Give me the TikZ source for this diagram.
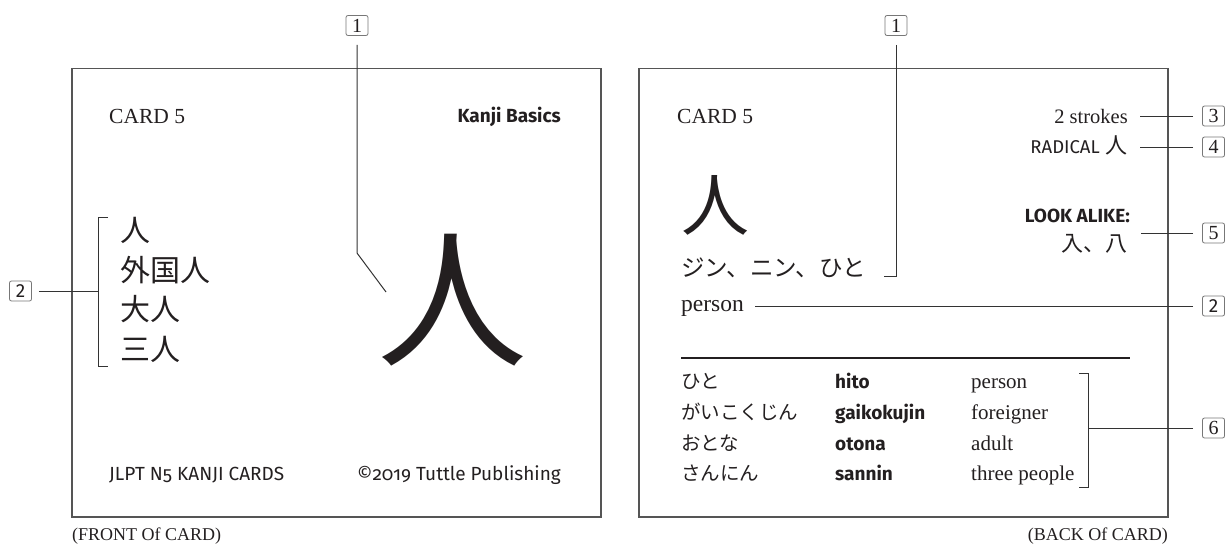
\documentclass[tikz,border=0pt]{standalone}
\usepackage{fontspec}
\setmainfont{Liberation Serif}
\newfontfamily\sansf{Fira Sans}
\newfontfamily\sansos{Fira Sans}[Numbers=OldStyle]
\newfontfamily\cjk{Noto Sans CJK JP}
\definecolor{ink}{HTML}{231F20}
\definecolor{cardgray}{HTML}{555555}
\definecolor{leadgray}{HTML}{333333}
\definecolor{boxgray}{HTML}{777777}
\newcommand{\fsz}[1]{\fontsize{#1}{#1}\selectfont}
\tikzset{
  cardbox/.style={draw=cardgray, line width=1.2pt},
  lead/.style={draw=leadgray, line width=1pt},
  callout/.style={draw=boxgray, rounded corners=2pt, minimum width=22pt, minimum height=20pt, inner sep=0pt, line width=0.8pt, text=ink, font=\fsz{20}},
  txt/.style={inner sep=0pt, text=ink},
  serifA/.style={txt, font=\fsz{21.5}},
  serifT/.style={txt, font=\fsz{21}},
  sansB/.style={txt, font=\sansf\bfseries\fsz{19}},
  sansR/.style={txt, font=\sansos\fsz{19}},
  kanjiL/.style={txt, font=\cjk\fsz{30}},
  kana/.style={txt, font=\cjk\fsz{19.5}},
}
\begin{document}
\begin{tikzpicture}[x=1pt,y=-1pt]
\useasboundingbox (0,0) rectangle (1226,546);
% cards
\draw[cardbox] (72,68.5) rectangle (601,517);
\draw[cardbox] (639,68.5) rectangle (1168,517);

% ---------- FRONT ----------
\node[serifA, anchor=base west] (fcard) at (109,123) {CARD 5};
\node[sansB, anchor=base east] (fkb) at (561,122) {Kanji Basics};
\node[kanjiL, anchor=base west] (fl1) at (120,241.5) {人};
\node[kanjiL, anchor=base west] (fl2) at (120,281) {外国人};
\node[kanjiL, anchor=base west] (fl3) at (120,320.5) {大人};
\node[kanjiL, anchor=base west] (fl4) at (120,360) {三人};
\node[txt, font=\cjk\fsz{150}] (fbig) at (452,300) {人};
\node[sansR, anchor=base west] (fjlpt) at (109,480) {JLPT N5 KANJI CARDS};
\node[sansR, anchor=base east] (fcopy) at (561,480) {©2019 Tuttle Publishing};
\node[txt, font=\fsz{18}, anchor=base west] (fcap) at (72,540) {(FRONT Of CARD)};

% front callouts
\node[callout] (c1f) at (357,25.5) {1};
\coordinate (f1bend) at (356,253);
\coordinate (f1end) at (386,292);
\draw[lead, shorten <=9pt] (c1f.south) -- (c1f.south |- f1bend) -- (f1end);

\node[callout, font=\sansf\fsz{19}] (c2f) at (20.5,291) {2};
\coordinate (brtop) at (108,217);
\coordinate (brbot) at (108,366);
\coordinate (brmid) at (98,291);
\draw[lead] (brtop) -- (brtop -| brmid) -- (brbot -| brmid) -- (brbot);
\draw[lead, shorten <=7pt] (c2f.east) -- (brmid);

% ---------- BACK ----------
\node[serifA, anchor=base west] (bcard) at (677,123) {CARD 5};
\node[txt, font=\fsz{20.5}, anchor=base east] (bstr) at (1128,123) {2 strokes};
\node[txt, anchor=base east] (brad) at (1128,153) {{\sansf\fsz{18.5}RADICAL}\hspace{6pt}{\cjk\fsz{22}人}};
\node[txt, font=\cjk\fsz{68}] (bbig) at (715,205) {人};
\node[txt, font=\cjk\fsz{23.5}, anchor=base west] (bread) at (681,276) {ジン、ニン、ひと};
\node[sansB, anchor=base east] (blook) at (1130,222) {LOOK ALIKE:};
\node[txt, font=\cjk\fsz{22}, anchor=base east] (balike) at (1128,251) {入、八};
\node[txt, font=\fsz{23.5}, anchor=base west] (bperson) at (681,311) {person};
\coordinate (rulel) at (681,358);
\coordinate (ruler) at (1130,358);
\draw[draw=ink, line width=1.5pt] (rulel) -- (ruler);

% table
\node[kana, anchor=base west] (k1) at (681,388) {ひと};
\node[kana, anchor=base west] (k2) at (681,419) {がいこくじん};
\node[kana, anchor=base west] (k3) at (681,450) {おとな};
\node[kana, anchor=base west] (k4) at (681,480) {さんにん};
\node[sansB, anchor=base west] (r1) at (835,388) {hito};
\node[sansB, anchor=base west] (r2) at (835,419) {gaikokujin};
\node[sansB, anchor=base west] (r3) at (835,450) {otona};
\node[sansB, anchor=base west] (r4) at (835,480) {sannin};
\node[serifT, anchor=base west] (e1) at (971,388) {person};
\node[serifT, anchor=base west] (e2) at (971,419) {foreigner};
\node[serifT, anchor=base west] (e3) at (971,450) {adult};
\node[serifT, anchor=base west] (e4) at (971,480) {three people};
\node[txt, font=\fsz{18}, anchor=base east] (bcap) at (1168,540) {(BACK Of CARD)};

% back callouts
\node[callout] (c1b) at (896,25.5) {1};
\coordinate (b1bend) at (896,276);
\coordinate (b1end) at (884,276);
\draw[lead, shorten <=9pt] (c1b.south) -- (b1bend) -- (b1end);

\node[callout] (c3) at (1213.5,116) {3};
\coordinate (s3) at (1140,116);
\draw[lead, shorten <=9pt] (c3.west) -- (s3);

\node[callout] (c4) at (1213.5,147) {4};
\coordinate (s4) at (1140,147);
\draw[lead, shorten <=9pt] (c4.west) -- (s4);

\node[callout] (c5) at (1213.5,233) {5};
\coordinate (s5) at (1141,233);
\draw[lead, shorten <=9pt] (c5.west) -- (s5);

\node[callout, font=\sansf\fsz{19}] (c2b) at (1213.5,306) {2};
\coordinate (s2) at (755,306);
\draw[lead, shorten <=9pt] (c2b.west) -- (s2);

\node[callout] (c6) at (1213.5,428) {6};
\coordinate (b6top) at (1079,373);
\coordinate (b6bot) at (1079,487);
\coordinate (b6mid) at (1088,428);
\draw[lead] (b6top) -- (b6top -| b6mid) -- (b6bot -| b6mid) -- (b6bot);
\draw[lead, shorten <=9pt] (c6.west) -- (b6mid);
\end{tikzpicture}
\end{document}
